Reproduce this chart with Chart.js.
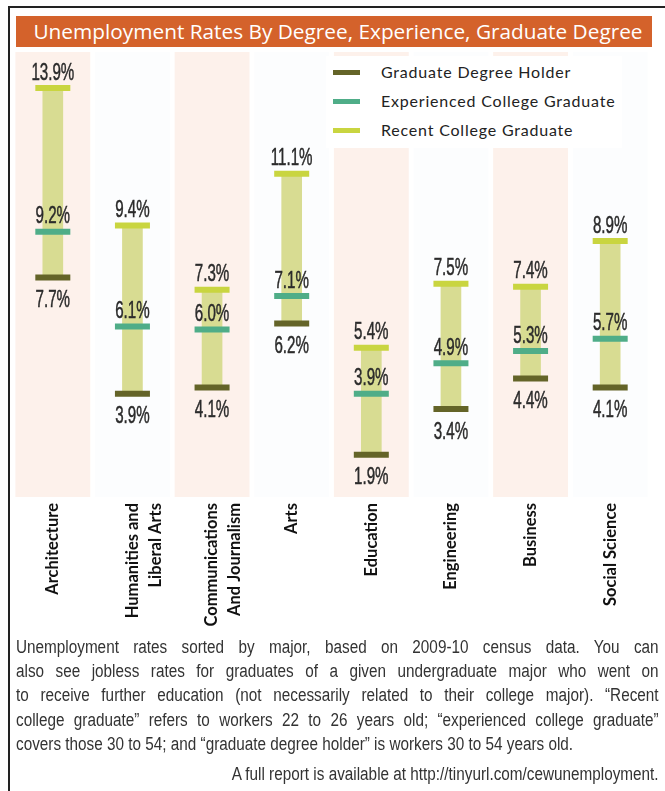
<!DOCTYPE html>
<html>
<head>
<meta charset="utf-8">
<script src="https://cdn.jsdelivr.net/npm/chart.js@4.4.1/dist/chart.umd.min.js"></script>
<style>
  body { margin: 0; width: 665px; height: 791px; background: #fff; overflow: hidden; position: relative; }
  #frame { position: absolute; left: 8px; top: 6px; width: 700px; height: 800px; border-left: 2px solid #222; border-top: 2px solid #222; }
  #wrap { position: absolute; left: 0; top: 0; width: 665px; height: 791px; }
  #title { position: absolute; left: 16px; top: 16px; width: 628px; padding-left: 8px; height: 31px; background: #D4622B; color: #fff;
           font: 20.8px "Open Sans", sans-serif; text-align: center; line-height: 30px; }
  #legend { position: absolute; left: 326px; top: 56px; width: 296px; height: 92px; background: #fff;
            font: 16px "Lato", sans-serif; letter-spacing: 0.8px; color: #222; }
  #legend div { position: absolute; left: 55px; height: 20px; line-height: 20px; white-space: nowrap; }
  #legend span { position: absolute; left: -48px; top: 8px; width: 27px; height: 5px; }
  #caption { position: absolute; left: 16px; top: 635px; width: 756px; color: #333; transform: scaleX(0.85); transform-origin: 0 0;
             font: 18px "Liberation Sans", sans-serif; line-height: 24.2px; }
  #caption div { text-align: justify; text-align-last: justify; white-space: nowrap; }
  #source { position: absolute; left: 16px; top: 764px; width: 756px; color: #333; transform: scaleX(0.85); transform-origin: 0 0;
            font: 18px "Liberation Sans", sans-serif; text-align: right; }
</style>
</head>
<body>
<div id="frame"></div>
<div id="wrap"><canvas id="chart" width="665" height="791"></canvas></div>
<div id="title">Unemployment Rates By Degree, Experience, Graduate Degree</div>
<div id="legend"></div>
<div id="caption">
  <div>Unemployment rates sorted by major, based on 2009-10 census data. You can</div>
  <div>also see jobless rates for graduates of a given undergraduate major who went on</div>
  <div>to receive further education (not necessarily related to their college major). “Recent</div>
  <div>college graduate” refers to workers 22 to 26 years old; “experienced college graduate”</div>
  <div style="text-align-last:left">covers those 30 to 54; and “graduate degree holder” is workers 30 to 54 years old.</div>
</div>
<div id="source">A full report is available at http://tinyurl.com/cewunemployment.</div>
<script>
// Data for the chart
const categories = [['Architecture'], ['Humanities and', 'Liberal Arts'], ['Communications', 'And Journalism'],
    ['Arts'], ['Education'], ['Engineering'], ['Business'], ['Social Science']];
const graduate = [7.7, 3.9, 4.1, 6.2, 1.9, 3.4, 4.4, 4.1];
const experienced = [9.2, 6.1, 6.0, 7.1, 3.9, 4.9, 5.3, 5.7];
const recent = [13.9, 9.4, 7.3, 11.1, 5.4, 7.5, 7.4, 8.9];
const seriesNames = ['Graduate Degree Holder', 'Experienced College Graduate', 'Recent College Graduate'];
const seriesColors = ['#646428', '#4FAD88', '#C9D540'];

// html legend
const legend = document.getElementById('legend');
seriesNames.forEach((name, i) => {
    const item = document.createElement('div');
    item.style.top = (6 + i * 29) + 'px';
    item.innerHTML = '<span style="background:' + seriesColors[i] + '"></span>' + name;
    legend.appendChild(item);
});

// pink columns behind every other major
const stripes = {
    id: 'stripes',
    beforeDatasetsDraw(chart) {
        const { ctx, chartArea, scales } = chart;
        const w = (chartArea.right - chartArea.left) / categories.length;
        ctx.save();
        categories.forEach((c, i) => {
            const x = scales.x.getPixelForValue(i);
            ctx.fillStyle = i % 2 === 0 ? '#FDF1EB' : '#FCFDFE';
            ctx.fillRect(x - w * 0.47, chartArea.top, w * 0.94, chartArea.bottom - chartArea.top);
        });
        ctx.restore();
    }
};

// percent labels next to the markers (condensed by squeezing the canvas)
const squeeze = 0.63;
const valueLabels = {
    id: 'valueLabels',
    afterDatasetsDraw(chart) {
        const ctx = chart.ctx;
        [1, 2, 3].forEach(d => {
            const meta = chart.getDatasetMeta(d);
            const vals = chart.data.datasets[d].data;
            meta.data.forEach((pt, i) => {
                const txt = vals[i].toFixed(1) + '%';
                ctx.save();
                ctx.translate(pt.x, pt.y);
                ctx.scale(squeeze, 1);
                ctx.font = '24px "Liberation Sans", sans-serif';
                ctx.fillStyle = '#2b2b2b';
                ctx.strokeStyle = '#2b2b2b';
                ctx.lineWidth = 0.5;
                ctx.textAlign = 'center';
                const y = d === 1 ? 11 : -3;
                ctx.textBaseline = d === 1 ? 'top' : 'bottom';
                ctx.fillText(txt, 0, y);
                ctx.strokeText(txt, 0, y);
                ctx.restore();
            });
        });
    }
};

const marker = (label, values, color) => ({
    type: 'line',
    label: label,
    data: values,
    showLine: false,
    pointStyle: 'line',
    pointRadius: 17.5,
    pointHoverRadius: 17.5,
    borderColor: color,
    backgroundColor: color,
    borderWidth: 6,
    pointBorderWidth: 6,
    order: 1
});

const ctx = document.getElementById('chart').getContext('2d');
const chart = new Chart(ctx, {
    type: 'bar',
    data: {
        labels: categories,
        datasets: [
            {
                label: 'range',
                data: graduate.map((g, i) => [g, recent[i]]),
                backgroundColor: '#D8DC92',
                barThickness: 20,
                order: 2
            },
            marker(seriesNames[0], graduate, seriesColors[0]),
            marker(seriesNames[1], experienced, seriesColors[1]),
            marker(seriesNames[2], recent, seriesColors[2])
        ]
    },
    options: {
        responsive: false,
        animation: false,
        devicePixelRatio: 1,
        layout: { autoPadding: false, padding: { left: 13, right: 15, top: 52, bottom: 154 } },
        plugins: { legend: { display: false }, tooltip: { enabled: false } },
        scales: {
            y: { display: false, min: 0.52, max: 15.08 },
            x: {
                grid: { display: false, drawTicks: false },
                border: { display: false },
                ticks: {
                    minRotation: 90, maxRotation: 90, padding: 6, color: '#111',
                    font: { family: 'Lato', size: 16.5, weight: 'bold', lineHeight: 1.4 }
                },
                afterFit(scale) {
                    scale.height = 140;
                    scale.paddingLeft = 0;
                    scale.paddingRight = 0;
                }
            }
        }
    },
    plugins: [stripes, valueLabels]
});
</script>
</body>
</html>
